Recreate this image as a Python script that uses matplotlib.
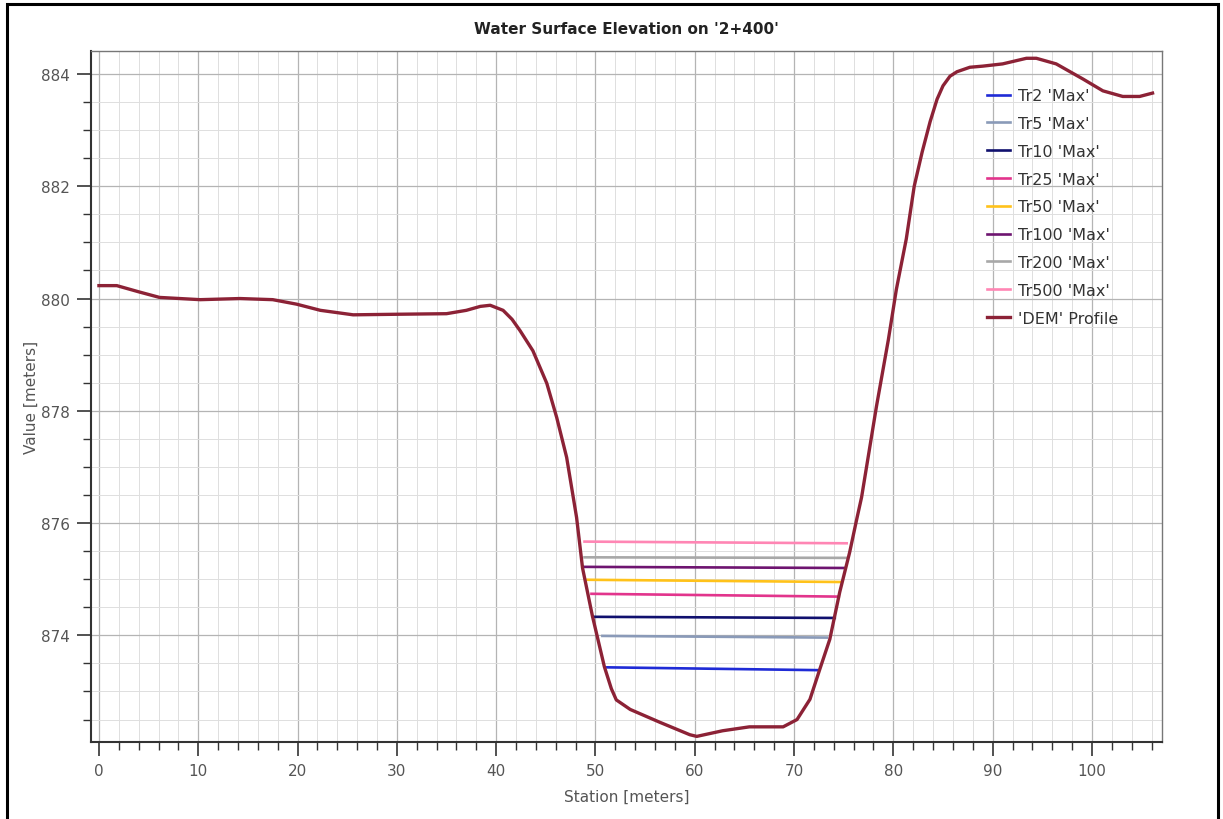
import matplotlib
matplotlib.use("Agg")
import matplotlib.pyplot as plt
from matplotlib.ticker import MultipleLocator
from matplotlib.patches import Rectangle

# DEM ground profile along the cross section
dem_station = [0.0, 1.8, 4.0, 6.1, 10.2, 14.2, 17.5, 19.9, 22.3, 25.6, 30.0, 35.0, 37.0, 38.4, 39.4,
               40.7, 41.6, 42.4, 43.7, 45.1, 46.1, 47.1, 48.1, 48.7, 49.7, 50.9, 51.6, 52.1, 53.5, 56.5,
               59.5, 60.2, 62.8, 65.5, 68.9, 70.3, 71.6, 72.6, 73.6, 74.6, 75.6, 76.3, 76.8,
               78.3, 79.5, 80.3, 81.3, 82.1, 82.9, 83.7, 84.4, 85.0, 85.7, 86.4, 87.7, 89.0, 91.0, 93.4,
               94.4, 96.4, 99.1, 101.1, 103.1, 104.8, 106.1]
dem_elev = [880.23, 880.23, 880.12, 880.02, 879.98, 880.0, 879.98, 879.9, 879.79, 879.71, 879.72,
            879.73, 879.79, 879.86, 879.88, 879.79, 879.63, 879.43, 879.07, 878.49, 877.88, 877.17,
            876.1, 875.2, 874.34, 873.44, 873.05, 872.85, 872.68, 872.45, 872.23, 872.2, 872.3,
            872.37, 872.37, 872.5, 872.86, 873.4, 873.93, 874.77, 875.48, 876.06, 876.46, 878.08,
            879.27, 880.16, 881.06, 882.0, 882.61, 883.15, 883.55, 883.79, 883.96, 884.04, 884.12,
            884.14, 884.18, 884.28, 884.28, 884.18, 883.91, 883.7, 883.6, 883.6, 883.66]

# max water surface per return period: (start station, end station), (start wse, end wse)
labels = ["Tr2 'Max'", "Tr5 'Max'", "Tr10 'Max'", "Tr25 'Max'", "Tr50 'Max'",
          "Tr100 'Max'", "Tr200 'Max'", "Tr500 'Max'"]
wse_x0 = [51.2, 50.7, 49.9, 49.6, 49.2, 48.7, 48.9, 48.9]
wse_x1 = [72.4, 73.3, 74.1, 74.5, 74.8, 75.1, 75.3, 75.3]
wse_y0 = [873.43, 873.99, 874.33, 874.74, 874.99, 875.22, 875.39, 875.67]
wse_y1 = [873.38, 873.96, 874.31, 874.69, 874.95, 875.20, 875.38, 875.64]
colors = ["#1f2bd6", "#8a9ab8", "#10106e", "#e2348c", "#ffc21a", "#6e1470", "#a8a8a8", "#ff86b4"]

fig = plt.figure(figsize=(12.23, 8.2), dpi=100)
ax = fig.add_axes([0.0744, 0.0939, 0.8757, 0.8427])

for i in range(len(labels)):
    ax.plot([wse_x0[i], wse_x1[i]], [wse_y0[i], wse_y1[i]], color=colors[i], lw=1.9,
            label=labels[i], zorder=3)
ax.plot(dem_station, dem_elev, color="#8c2236", lw=2.4, label="'DEM' Profile", zorder=4,
        solid_joinstyle="round")

ax.set_xlim(-0.8, 107.05)
ax.set_ylim(872.1, 884.41)
ax.xaxis.set_major_locator(MultipleLocator(10))
ax.xaxis.set_minor_locator(MultipleLocator(2))
ax.yaxis.set_major_locator(MultipleLocator(2))
ax.yaxis.set_minor_locator(MultipleLocator(0.5))
ax.grid(which="major", color="#b4b4b4", lw=0.9)
ax.grid(which="minor", color="#dedede", lw=0.7)
ax.set_axisbelow(True)

ax.tick_params(which="major", direction="out", length=10, width=1.2, color="#333333",
               labelsize=11, labelcolor="#555555", pad=5)
ax.tick_params(which="minor", direction="out", length=6, width=1.0, color="#333333")
for s in ["left", "bottom"]:
    ax.spines[s].set_color("#333333")
    ax.spines[s].set_linewidth(1.5)
for s in ["top", "right"]:
    ax.spines[s].set_color("#777777")
    ax.spines[s].set_linewidth(1.0)

ax.set_title("Water Surface Elevation on '2+400'", fontsize=11, fontweight="bold",
             color="#222222", pad=13)
ax.set_xlabel("Station [meters]", fontsize=11, color="#555555", labelpad=8)
ax.set_ylabel("Value [meters]", fontsize=11, color="#555555", labelpad=2)

leg = ax.legend(loc="upper left", bbox_to_anchor=(0.837, 0.946), frameon=False,
                fontsize=11.5, borderpad=0, borderaxespad=0, labelspacing=0.8,
                handlelength=1.4, handletextpad=0.5)
for t in leg.get_texts():
    t.set_color("#333333")

# black outer frame
fig.patches.append(Rectangle((7 / 1223, -0.01), 1211 / 1223, 1 - 5 / 820 + 0.01,
                             transform=fig.transFigure, fill=False, ec="black", lw=2.2))

fig.savefig("out.png", dpi=100)
